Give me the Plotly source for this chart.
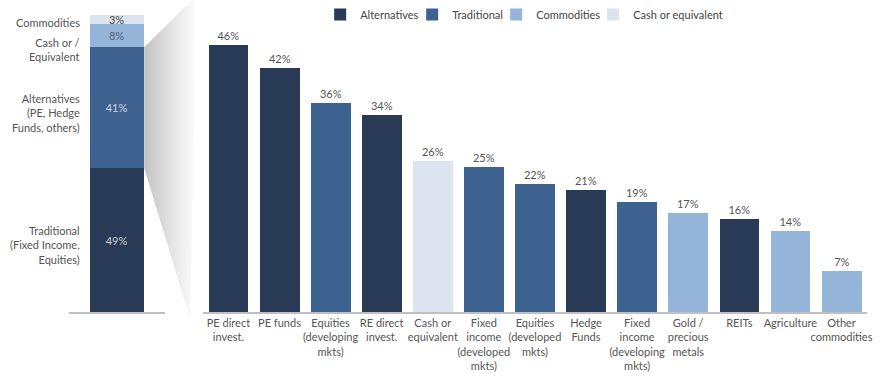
import plotly.graph_objects as go

# ---- data -------------------------------------------------------------
categories = ["PE direct invest.", "PE funds", "Equities (developing mkts)",
              "RE direct invest.", "Cash or equivalent",
              "Fixed income (developed mkts)", "Equities (developed mkts)",
              "Hedge Funds", "Fixed income (developing mkts)",
              "Gold / precious metals", "REITs", "Agriculture",
              "Other commodities"]
tick_labels = ["PE direct<br>invest.", "PE funds", "Equities<br>(developing<br>mkts)",
               "RE direct<br>invest.", "Cash or<br>equivalent",
               "Fixed<br>income<br>(developed<br>mkts)", "Equities<br>(developed<br>mkts)",
               "Hedge<br>Funds", "Fixed<br>income<br>(developing<br>mkts)",
               "Gold /<br>precious<br>metals", "REITs", "Agriculture",
               "Other<br>commodities"]
values = [46, 42, 36, 34, 26, 25, 22, 21, 19, 17, 16, 14, 7]
groups = ["Alternatives", "Alternatives", "Traditional", "Alternatives",
          "Cash or equivalent", "Traditional", "Traditional", "Alternatives",
          "Traditional", "Commodities", "Alternatives", "Commodities",
          "Commodities"]
legend_order = ["Alternatives", "Traditional", "Commodities", "Cash or equivalent"]

# overall allocation (stacked, bottom to top)
alloc_names = ["Traditional", "Alternatives", "Cash", "Commodities"]
alloc_values = [49, 41, 8, 3]
alloc_labels = ["Traditional<br>(Fixed Income,<br>Equities)",
                "Alternatives<br>(PE, Hedge<br>Funds, others)",
                "Cash or /<br>Equivalent", "Commodities"]

# ---- styling ------------------------------------------------------------
NAVY, MID, LIGHT, PALE = "#283a56", "#3e6290", "#94b4da", "#dce4f0"
group_colors = {"Alternatives": NAVY, "Traditional": MID,
                "Commodities": LIGHT, "Cash or equivalent": PALE}
legend_widths = {"Alternatives": 47, "Traditional": 39,
                 "Commodities": 52, "Cash or equivalent": 90}
alloc_colors = [NAVY, MID, LIGHT, PALE]
alloc_text_colors = ["#c9ced8", "#c9d3e3", "#4f5f78", "#4a4a4a"]
alloc_label_shift = [-5, -5, -14, -3]

W, H = 880, 376
BASE_PX = 312                      # pixel row of both baselines
FONT = "Lato"
TXT = "#555555"

L_TOP = 106.1                      # left axis top value
M_TOP = 53.76                      # main axis top value
y_dom = [(H - BASE_PX) / H, 1.0]

fig = go.Figure()

# ---- connector shading between the two panels --------------------------
def left_px(v):
    return BASE_PX - v * BASE_PX / L_TOP

seg_lo = alloc_values[0]
seg_hi = alloc_values[0] + alloc_values[1]
bar_right = 145
fig.add_trace(go.Scatter(
    x=[bar_right, 199, 191, bar_right, bar_right],
    y=[left_px(seg_hi), -6, 318, left_px(seg_lo), left_px(seg_hi)],
    mode="lines", line=dict(width=0), fill="toself",
    fillgradient=dict(type="horizontal",
                      colorscale=[[0, "#c2c2c2"], [0.55, "#e6e6e6"], [1, "#ffffff"]]),
    hoverinfo="skip", showlegend=False, xaxis="x3", yaxis="y3"))

# ---- left stacked bar -------------------------------------------------
for name, v, c, tc in zip(alloc_names, alloc_values, alloc_colors, alloc_text_colors):
    fig.add_trace(go.Bar(
        x=[0.5], y=[v], width=0.557, marker=dict(color=c, line=dict(width=0)),
        text=[f"{v}%"], textposition="inside", insidetextanchor="middle",
        constraintext="none", textfont=dict(family=FONT, size=11, color=tc),
        showlegend=False, name=name, xaxis="x", yaxis="y", hoverinfo="skip"))

# labels to the left of the stacked bar
cum = 0
for v, lab, sh in zip(alloc_values, alloc_labels, alloc_label_shift):
    mid = cum + v / 2
    cum += v
    fig.add_annotation(x=82, xref="x3", y=left_px(mid) - sh, yref="y3",
                       text=lab, showarrow=False, xanchor="right", yanchor="middle",
                       align="right", font=dict(family=FONT, size=11, color=TXT))

# ---- main bars, one trace per asset group -----------------------------
for g in legend_order:
    xs = [c for c, gg in zip(categories, groups) if gg == g]
    ys = [v for v, gg in zip(values, groups) if gg == g]
    fig.add_trace(go.Bar(
        x=xs, y=ys, name=g, width=0.78, legendwidth=legend_widths[g],
        marker=dict(color=group_colors[g], line=dict(width=0)),
        texttemplate="%{y}%", textposition="outside", cliponaxis=False,
        textfont=dict(family=FONT, size=11, color=TXT),
        xaxis="x2", yaxis="y2"))

fig.update_layout(
    width=W, height=H, margin=dict(l=0, r=0, t=0, b=0),
    paper_bgcolor="white", plot_bgcolor="rgba(0,0,0,0)",
    barmode="stack", bargap=0,
    font=dict(family=FONT, size=11, color=TXT),
    showlegend=True,
    legend=dict(orientation="h", x=322 / W, xanchor="left", y=1.0, yanchor="top",
                traceorder="normal", font=dict(family=FONT, size=11, color="#444444"),
                bgcolor="rgba(0,0,0,0)"),
    xaxis=dict(domain=[69 / W, 166 / W], range=[0, 1], showline=True,
               linecolor="#c0c0c0", linewidth=1.5, showticklabels=False,
               showgrid=False, zeroline=False, ticks=""),
    yaxis=dict(domain=y_dom, range=[0, L_TOP], visible=False),
    xaxis2=dict(domain=[204 / W, 872 / W], anchor="y2", type="category",
                categoryorder="array", categoryarray=categories,
                tickvals=categories, ticktext=tick_labels, tickangle=0,
                range=[-0.5, len(categories) - 0.5],
                showline=True, linecolor="#c0c0c0", linewidth=1.5,
                showgrid=False, zeroline=False, ticks="",
                tickfont=dict(family=FONT, size=11, color=TXT)),
    yaxis2=dict(domain=y_dom, anchor="x2", range=[0, M_TOP], visible=False),
    xaxis3=dict(domain=[0, 1], anchor="y3", range=[0, W], visible=False),
    yaxis3=dict(domain=[0, 1], anchor="x3", range=[H, 0], visible=False),
)

fig.write_html("out.html")
